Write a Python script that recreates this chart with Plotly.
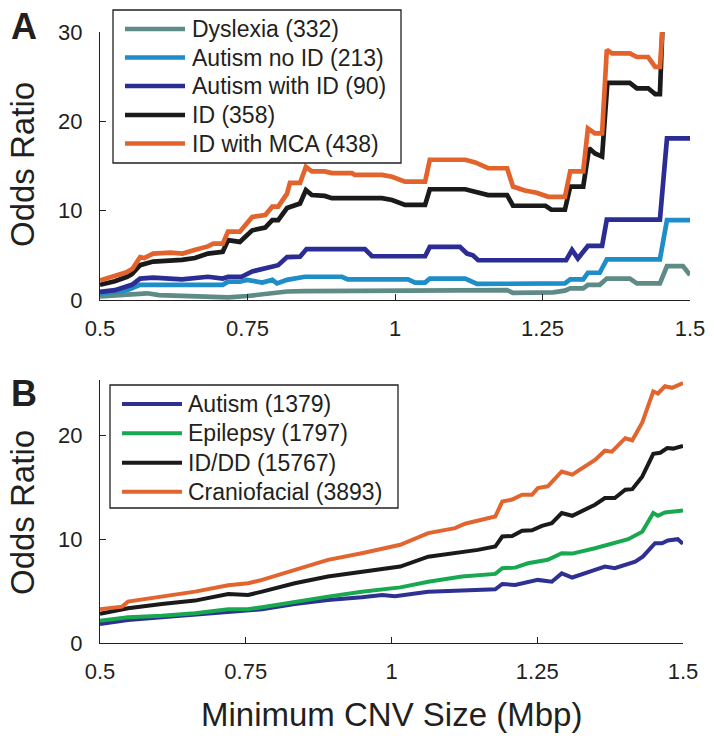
import plotly.graph_objects as go

# ---- Panel A: odds ratio vs minimum CNV size (step-like curves) ----
dys_x = [0.5, 0.546, 0.58, 0.6, 0.661, 0.717, 0.75, 0.78, 0.817, 0.847, 0.95, 1.051, 1.059, 1.19,
         1.2, 1.268, 1.288, 1.297, 1.319, 1.327, 1.347, 1.359, 1.398, 1.41, 1.449, 1.461, 1.488, 1.5]
dys_y = [0.4, 0.55, 0.75, 0.55, 0.4, 0.3, 0.45, 0.65, 0.95, 1.0, 1.0, 1.0, 1.1, 1.1,
         0.8, 0.85, 1.05, 1.3, 1.3, 1.7, 1.7, 2.4, 2.4, 1.85, 1.85, 3.8, 3.8, 2.8]

aut_noid_x = [0.5, 0.546, 0.568, 0.708, 0.717, 0.737, 0.749, 0.775, 0.792, 0.8, 0.817, 0.847, 0.91,
              0.92, 1.022, 1.034, 1.051, 1.059, 1.119, 1.139, 1.288, 1.297, 1.319, 1.327, 1.347,
              1.359, 1.449, 1.461, 1.5]
aut_noid_y = [0.75, 1.1, 1.7, 1.7, 2.05, 2.05, 2.25, 1.95, 2.25, 1.85, 2.25, 2.6, 2.6,
              2.3, 2.3, 1.95, 1.95, 2.4, 2.4, 1.8, 1.85, 2.3, 2.3, 3.05, 3.05,
              4.55, 4.55, 8.95, 8.95]

aut_id_x = [0.5, 0.525, 0.554, 0.568, 0.59, 0.639, 0.683, 0.708, 0.717, 0.74, 0.758, 0.78, 0.802,
            0.817, 0.839, 0.85, 0.949, 0.961, 1.051, 1.059, 1.11, 1.122, 1.132, 1.141, 1.29, 1.3,
            1.31, 1.327, 1.351, 1.359, 1.449, 1.461, 1.5]
aut_id_y = [0.9, 1.1, 1.7, 2.4, 2.5, 2.3, 2.6, 2.4, 2.6, 2.6, 3.2, 3.55, 3.9,
            4.8, 4.85, 5.7, 5.7, 4.9, 4.9, 5.95, 5.95, 5.2, 5.0, 4.45, 4.45, 5.6,
            4.65, 6.05, 6.05, 9.0, 9.0, 18.1, 18.1]

id_x = [0.5, 0.525, 0.546, 0.554, 0.568, 0.59, 0.639, 0.661, 0.683, 0.708, 0.717, 0.737, 0.745,
        0.758, 0.78, 0.792, 0.802, 0.817, 0.839, 0.849, 0.859, 0.881, 0.893, 0.978, 0.995, 1.017,
        1.051, 1.059, 1.119, 1.136, 1.158, 1.19, 1.2, 1.255, 1.265, 1.288, 1.297, 1.319, 1.329,
        1.339, 1.351, 1.36, 1.398, 1.41, 1.429, 1.441, 1.449, 1.453]
id_y = [1.7, 2.1, 2.6, 2.9, 3.9, 4.3, 4.5, 4.7, 5.2, 5.4, 6.7, 6.5, 7.0,
        7.8, 8.1, 8.95, 8.95, 10.3, 10.8, 12.3, 11.75, 11.65, 11.4, 11.4, 11.2, 10.65,
        10.65, 12.4, 12.4, 12.1, 11.75, 11.75, 10.55, 10.55, 10.1, 10.1, 12.7, 12.7, 17.0,
        16.4, 16.05, 24.3, 24.3, 23.7, 23.7, 23.05, 23.05, 30]

mca_x = [0.5, 0.525, 0.545, 0.555, 0.568, 0.575, 0.59, 0.62, 0.64, 0.66, 0.673, 0.683, 0.692,
         0.708, 0.717, 0.737, 0.749, 0.758, 0.78, 0.792, 0.802, 0.817, 0.822, 0.839, 0.849,
         0.859, 0.881, 0.893, 0.927, 0.932, 0.978, 0.995, 1.017, 1.051, 1.059, 1.119, 1.136,
         1.158, 1.19, 1.2, 1.22, 1.24, 1.26, 1.288, 1.297, 1.319, 1.327, 1.339, 1.351, 1.359,
         1.368, 1.398, 1.41, 1.429, 1.441, 1.449, 1.453]
mca_y = [2.2, 2.7, 3.1, 3.5, 4.8, 4.7, 5.2, 5.3, 5.2, 5.6, 5.8, 6.0, 6.3,
         6.3, 7.65, 7.65, 8.6, 9.3, 9.5, 10.45, 10.45, 11.9, 13.1, 13.1, 14.9,
         14.4, 14.4, 14.2, 14.2, 14.0, 14.0, 13.8, 13.25, 13.25, 15.7, 15.7, 15.4,
         14.75, 14.75, 12.7, 12.25, 12.0, 11.55, 11.55, 14.4, 14.4, 19.2, 18.65, 18.65, 28.0,
         27.6, 27.6, 27.2, 27.2, 26.1, 26.1, 30]

names_a = ["Dyslexia (332)", "Autism no ID (213)", "Autism with ID (90)", "ID (358)", "ID with MCA (438)"]
colors_a = ["#5f8b86", "#1f8dc8", "#2b2d94", "#1a1a1a", "#e2632c"]
series_a = [(dys_x, dys_y), (aut_noid_x, aut_noid_y), (aut_id_x, aut_id_y), (id_x, id_y), (mca_x, mca_y)]

# ---- Panel B: smoother curves ----
autb_x = [0.5, 0.548, 0.606, 0.663, 0.72, 0.754, 0.778, 0.834, 0.891, 0.949, 0.984, 1.006, 1.063,
          1.121, 1.178, 1.19, 1.212, 1.251, 1.275, 1.292, 1.31, 1.349, 1.366, 1.383, 1.418, 1.431,
          1.452, 1.464, 1.474, 1.491, 1.5]
autb_y = [1.83, 2.22, 2.47, 2.7, 3.02, 3.12, 3.25, 3.76, 4.14, 4.4, 4.62, 4.5, 4.94,
          5.04, 5.17, 5.68, 5.58, 6.07, 5.9, 6.7, 6.3, 7.03, 7.35, 7.2, 7.83, 8.31,
          9.6, 9.6, 9.86, 9.99, 9.54]

epi_x = [0.5, 0.548, 0.606, 0.663, 0.72, 0.754, 0.778, 0.834, 0.891, 0.949, 1.015, 1.063, 1.121,
         1.178, 1.19, 1.212, 1.234, 1.268, 1.292, 1.31, 1.349, 1.406, 1.43, 1.449, 1.457, 1.469,
         1.486, 1.5]
epi_y = [2.15, 2.47, 2.63, 2.86, 3.25, 3.25, 3.44, 3.98, 4.46, 4.94, 5.35, 5.9, 6.39,
         6.65, 7.2, 7.25, 7.67, 8.0, 8.64, 8.6, 9.12, 9.99, 10.7, 12.5, 12.24, 12.55,
         12.65, 12.75]

iddd_x = [0.5, 0.548, 0.606, 0.663, 0.72, 0.754, 0.778, 0.834, 0.891, 0.949, 1.015, 1.063, 1.109,
          1.148, 1.178, 1.19, 1.207, 1.224, 1.241, 1.258, 1.275, 1.292, 1.31, 1.349, 1.366, 1.383,
          1.401, 1.413, 1.43, 1.449, 1.461, 1.473, 1.483, 1.5]
iddd_y = [2.8, 3.34, 3.76, 4.08, 4.72, 4.62, 4.94, 5.75, 6.39, 6.87, 7.35, 8.3, 8.64,
          8.96, 9.28, 10.24, 10.3, 10.8, 10.85, 11.27, 11.53, 12.5, 12.24, 13.3, 13.94, 13.94,
          14.74, 14.8, 16.0, 18.2, 18.3, 18.75, 18.7, 18.97]

cran_x = [0.5, 0.538, 0.548, 0.606, 0.663, 0.72, 0.754, 0.778, 0.834, 0.891, 0.949, 0.989, 1.015,
          1.063, 1.109, 1.126, 1.178, 1.19, 1.207, 1.224, 1.241, 1.251, 1.268, 1.292, 1.31, 1.349,
          1.366, 1.378, 1.401, 1.413, 1.43, 1.449, 1.457, 1.469, 1.481, 1.5]
cran_y = [3.25, 3.5, 3.98, 4.46, 4.94, 5.56, 5.75, 6.07, 7.03, 8.0, 8.64, 9.12, 9.45,
          10.57, 11.05, 11.47, 12.17, 13.6, 13.8, 14.26, 14.26, 14.9, 15.07, 16.5, 16.2, 17.6,
          18.5, 18.4, 19.7, 19.5, 21.2, 24.2, 24.0, 24.7, 24.55, 25.0]

names_b = ["Autism (1379)", "Epilepsy (1797)", "ID/DD (15767)", "Craniofacial (3893)"]
colors_b = ["#2e3192", "#18a84f", "#1a1a1a", "#e2652f"]
series_b = [(autb_x, autb_y), (epi_x, epi_y), (iddd_x, iddd_y), (cran_x, cran_y)]

x_ticks = [0.5, 0.75, 1, 1.25, 1.5]
x_ticktext = ["0.5", "0.75", "1", "1.25", "1.5"]

W, H = 714, 741
FONT = "Liberation Sans, Arial, Helvetica, sans-serif"
INK = "#231f20"


def fx(px):
    return px / W


def fy(py):
    return 1 - py / H


fig = go.Figure()
for (xs, ys), nm, c in zip(series_a, names_a, colors_a):
    fig.add_trace(go.Scatter(x=xs, y=ys, mode="lines", name=nm, xaxis="x", yaxis="y",
                             line=dict(color=c, width=4.7), showlegend=False))
for (xs, ys), nm, c in zip(series_b, names_b, colors_b):
    fig.add_trace(go.Scatter(x=xs, y=ys, mode="lines", name=nm, xaxis="x2", yaxis="y2",
                             line=dict(color=c, width=4), showlegend=False))

ax_common = dict(showline=True, linecolor=INK, linewidth=1.3, ticks="inside", ticklen=6,
                 tickwidth=1.3, tickcolor=INK, showgrid=False, zeroline=False, automargin=False,
                 tickfont=dict(family=FONT, size=22, color=INK))

fig.update_layout(
    width=W, height=H, margin=dict(l=0, r=0, t=0, b=0),
    paper_bgcolor="white", plot_bgcolor="white",
    font=dict(family=FONT, color=INK),
    xaxis=dict(domain=[fx(100), fx(690)], range=[0.5, 1.5], anchor="y",
               tickvals=x_ticks, ticktext=x_ticktext, ticklabelstandoff=8, **ax_common),
    yaxis=dict(domain=[fy(300), fy(32)], range=[0, 30], anchor="x",
               tickvals=[0, 10, 20, 30], ticklabelstandoff=12, **ax_common),
    xaxis2=dict(domain=[fx(100), fx(683)], range=[0.5, 1.5], anchor="y2",
                tickvals=x_ticks, ticktext=x_ticktext, ticklabelstandoff=8, **ax_common),
    yaxis2=dict(domain=[fy(643), fy(380)], range=[0, 25.3], anchor="x2",
                tickvals=[0, 10, 20], ticklabelstandoff=12, **ax_common),
)

shapes, annots = [], []


def legend(box, rows, names, colors, lx0, lx1, tx, lw):
    x0, y0, x1, y1 = box
    shapes.append(dict(type="rect", xref="paper", yref="paper", x0=fx(x0), x1=fx(x1),
                       y0=fy(y1), y1=fy(y0), line=dict(color=INK, width=1.3),
                       fillcolor="white"))
    for ry, nm, c in zip(rows, names, colors):
        shapes.append(dict(type="line", xref="paper", yref="paper", x0=fx(lx0), x1=fx(lx1),
                           y0=fy(ry), y1=fy(ry), line=dict(color=c, width=lw)))
        annots.append(dict(text=nm, xref="paper", yref="paper", x=fx(tx), y=fy(ry),
                           xanchor="left", yanchor="middle", showarrow=False,
                           font=dict(family=FONT, size=23, color=INK)))


legend((113, 10, 401, 163), [29, 57.5, 86, 115, 143.5], names_a, colors_a, 125, 185, 190, 4.7)
legend((110, 385, 398, 508), [404, 433.3, 462.7, 491.7], names_b, colors_b, 122, 182, 186, 4)

# panel letters
for txt, y in [("A", 26), ("B", 393)]:
    annots.append(dict(text="<b>%s</b>" % txt, xref="paper", yref="paper", x=fx(24), y=fy(y),
                       xanchor="center", yanchor="middle", showarrow=False,
                       font=dict(family=FONT, size=36, color=INK)))

# axis titles
for y in [165, 513]:
    annots.append(dict(text="Odds Ratio", xref="paper", yref="paper", x=fx(22), y=fy(y),
                       xanchor="center", yanchor="middle", textangle=-90, showarrow=False,
                       font=dict(family=FONT, size=33, color=INK)))
annots.append(dict(text="Minimum CNV Size (Mbp)", xref="paper", yref="paper", x=fx(391),
                   y=fy(714), xanchor="center", yanchor="middle", showarrow=False,
                   font=dict(family=FONT, size=33, color=INK)))

fig.update_layout(shapes=shapes, annotations=annots)
# page body margin would push the 714x741 figure off the window
fig.write_html("out.html", config={"displayModeBar": False},
               post_script="document.body.style.margin='0';")
